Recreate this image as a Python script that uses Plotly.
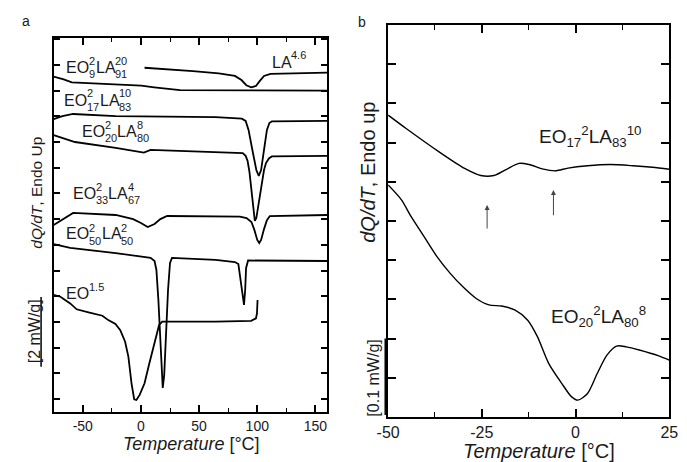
import plotly.graph_objects as go

W, H = 687, 462
FONT = "Arial, Liberation Sans, sans-serif"
TXT = "#1a1a1a"

# ---------------- Panel a data (T in °C, Y in offset units: 1 unit = one y-tick) ----------------
la46_T = [3.1, 22.5, 44.7, 66.9, 80.8, 86.4, 90.6, 94.8, 98.9, 101.7, 105.8, 111.4, 160]
la46_Y = [13.89, 13.84, 13.76, 13.67, 13.57, 13.41, 13.21, 13.13, 13.18, 13.35, 13.57, 13.65, 13.70]

eo9_T = [-75, -66.4, -59.4, -41.4, -19.2, 0.3, 11.4, 25.3, 33.6, 160]
eo9_Y = [13.54, 13.44, 13.32, 13.28, 13.25, 13.19, 13.13, 13.05, 13.02, 13.00]

eo17_T = [-75, -67.5, -58.3, -21.7, 64.2, 86.7, 90.0, 92.5, 95.8, 99.2, 101.3, 103.3, 105.8, 108.3, 110.4, 112.5, 160]
eo17_Y = [11.89, 12.01, 12.09, 12.01, 11.97, 11.91, 11.82, 11.47, 10.69, 9.91, 9.68, 9.91, 10.69, 11.47, 11.74, 11.80, 11.82]

eo20_T = [-75, -65, -56.7, -21.7, -2.5, 2.5, 8.3, 64.2, 87.5, 90.0, 91.7, 93.3, 95.8, 97.9, 99.2, 101.7, 104.2, 105.8, 107.5, 110.0, 112.5, 160]
eo20_Y = [11.27, 11.12, 11.00, 10.77, 10.65, 10.59, 10.69, 10.61, 10.57, 10.46, 10.26, 9.83, 8.86, 7.93, 8.04, 8.74, 9.44, 9.91, 10.18, 10.36, 10.44, 10.46]

eo33_T = [-75, -65, -58.3, -21.7, -6.7, 0, 5.8, 11.7, 16.7, 22.5, 64.2, 85, 90.8, 95, 97.5, 100, 101.7, 103.3, 105.8, 108.3, 110.8, 160]
eo33_Y = [7.77, 8.04, 8.24, 8.16, 8.00, 7.85, 7.69, 7.81, 8.00, 8.12, 8.12, 8.10, 8.04, 7.89, 7.58, 7.19, 7.07, 7.19, 7.61, 7.96, 8.12, 8.16]

eo50_T = [-75, -60.8, -21.7, 0, 8.3, 11.7, 13.3, 15.0, 16.7, 17.9, 18.75, 20.0, 21.7, 23.3, 25.0, 26.7,
          64.2, 80.8, 83.75, 85.8, 87.5, 88.6, 89.6, 90.4, 92.1, 160]
eo50_Y = [7.03, 6.88, 6.68, 6.53, 6.49, 6.37, 6.02, 4.85, 3.30, 1.93, 1.43, 1.93, 3.68, 5.24, 6.29, 6.49,
          6.41, 6.33, 6.25, 5.63, 4.93, 4.66, 5.24, 6.10, 6.39, 6.37]

eo15_T = [-75, -69.2, -60.8, -55.25, -44.2, -33.1, -28.1, -21.9, -17.75, -13.6, -10.8, -8.1, -5.8, -3.9, -1.1,
          3.1, 7.25, 11.4, 15.6, 18.3, 64.2, 94.75, 98.9, 99.75, 100.25]
eo15_Y = [5.05, 4.98, 4.72, 4.49, 4.36, 4.24, 4.07, 3.92, 3.68, 3.23, 2.65, 1.61, 0.99, 0.96, 1.16,
          1.61, 2.39, 3.17, 3.88, 4.01, 4.01, 4.04, 4.14, 4.33, 4.85]

xticks_a = [-50, 0, 50, 100, 150]
xtick_text_a = ["-50", "0", "50", "100", "150"]
scale_a = [2.25, 4.97]          # extent of the "[2 mW/g]" bar in panel-a units

# ---------------- Panel b data ----------------
eo17b_T = [-50, -45.2, -36.5, -29.6, -25.3, -21.8, -18.4, -15.1, -12.4, -8.9, -5.4, -2.0, 3.2, 9.25, 15.3, 20.5, 25]
eo17b_Y = [7.70, 7.36, 6.77, 6.34, 6.16, 6.16, 6.32, 6.47, 6.44, 6.33, 6.28, 6.35, 6.41, 6.44, 6.41, 6.37, 6.32]

eo20b_T = [-50, -46.45, -43.86, -40.41, -36.97, -33.5, -30.05, -26.6, -23.13, -19.7, -16.24, -12.77, -10.18,
           -7.18, -3.7, -1.11, 0.6, 3.19, 5.78, 8.37, 10.96, 13.55, 17.0, 22.2, 25]
eo20b_Y = [5.92, 5.54, 5.11, 4.60, 4.09, 3.67, 3.32, 3.03, 2.86, 2.83, 2.73, 2.47, 2.05,
           1.37, 0.86, 0.52, 0.43, 0.60, 1.11, 1.58, 1.81, 1.79, 1.71, 1.56, 1.45]

xticks_b = [-50, -25, 0, 25]
xtick_text_b = ["-50", "-25", "0", "25"]
arrow_T = [-23.6, -5.9]
arrow_tail = [4.77, 5.11]
arrow_head = [5.41, 5.79]
scale_b = [0.05, 2.0]

# ---------------- figure ----------------
fig = go.Figure()
LW_A = 1.8
for T, Y in [(la46_T, la46_Y), (eo9_T, eo9_Y), (eo17_T, eo17_Y), (eo20_T, eo20_Y),
             (eo33_T, eo33_Y), (eo50_T, eo50_Y), (eo15_T, eo15_Y)]:
    fig.add_trace(go.Scatter(x=T, y=Y, mode="lines", line=dict(color="black", width=LW_A),
                             xaxis="x", yaxis="y", showlegend=False, hoverinfo="skip"))
for T, Y in [(eo17b_T, eo17b_Y), (eo20b_T, eo20b_Y)]:
    fig.add_trace(go.Scatter(x=T, y=Y, mode="lines", line=dict(color="black", width=1.4, shape="spline", smoothing=0.8),
                             xaxis="x2", yaxis="y2", showlegend=False, hoverinfo="skip"))

def P(px, py):
    return px / W, 1 - py / H

ax_common = dict(showline=True, linecolor="black", linewidth=2, mirror="allticks", ticks="inside",
                 tickcolor="black", tickwidth=1.5, showgrid=False, zeroline=False)

fig.update_layout(
    width=W, height=H, margin=dict(l=0, r=0, t=0, b=0),
    paper_bgcolor="white", plot_bgcolor="white",
    xaxis=dict(domain=[43 / W, 325 / W], range=[-75, 160], tickmode="array", tickvals=xticks_a,
               ticktext=xtick_text_a, ticklen=7, anchor="y",
               minor=dict(tickmode="linear", tick0=0, dtick=25, ticklen=4, ticks="inside", tickcolor="black", tickwidth=1.2),
               tickfont=dict(size=14, family=FONT, color=TXT), **ax_common),
    yaxis=dict(domain=[1 - 412 / H, 1 - 38 / H], range=[0.494, 15.047], tick0=0, dtick=1, ticklen=6,
               showticklabels=False, anchor="x", **ax_common),
    xaxis2=dict(domain=[388 / W, 678 / W], range=[-50, 25], tickmode="array", tickvals=xticks_b,
                ticktext=xtick_text_b, ticklen=8, anchor="y2",
                minor=dict(tickmode="linear", tick0=0, dtick=12.5, ticklen=5, ticks="inside", tickcolor="black", tickwidth=1.2),
                tickfont=dict(size=16, family=FONT, color=TXT), **ax_common),
    yaxis2=dict(domain=[1 - 417 / H, 1 - 25 / H], range=[0, 10], tick0=0, dtick=1, ticklen=8,
                showticklabels=False, anchor="x2", **ax_common),
)

ann = []
def text_ann(px, py, text, size, xanchor="left", yanchor="middle", angle=0):
    x, y = P(px, py)
    ann.append(dict(x=x, y=y, xref="paper", yref="paper", text=text, showarrow=False,
                    xanchor=xanchor, yanchor=yanchor, textangle=angle, borderpad=0,
                    font=dict(size=size, family=FONT, color=TXT)))

CW = {"E": 0.667, "O": 0.778, "L": 0.556, "A": 0.667, ".": 0.278}
def tw(s, size):
    return sum(CW.get(c, 0.556) for c in s) * size

MAIN, SMALL = 16, 11
def stacked(px, pyc, pieces):
    x = px
    for main, sup, sub in pieces:
        text_ann(x, pyc, main, MAIN)
        x += tw(main, MAIN) + 0.5
        if sup:
            text_ann(x, pyc - 6.5, sup, SMALL)
        if sub:
            text_ann(x, pyc + 7, sub, SMALL)
        x += max(tw(sup, SMALL), tw(sub, SMALL)) + 0.5

stacked(55, 67.5, [("EO", "2", "9"), ("LA", "20", "91")])
stacked(53, 100, [("EO", "2", "17"), ("LA", "10", "83")])
stacked(71, 131.5, [("EO", "2", "20"), ("LA", "8", "80")])
stacked(62, 193.5, [("EO", "2", "33"), ("LA", "4", "67")])
stacked(55, 234, [("EO", "2", "50"), ("LA", "2", "50")])
stacked(55, 293.5, [("EO", "1.5", "")])
stacked(267, 62, [("LA", "4.6", "")])

# panel b labels
text_ann(543, 136, "EO<sub>17</sub><sup>2</sup>LA<sub>83</sub><sup>10</sup>", 19)
text_ann(555, 316, "EO<sub>20</sub><sup>2</sup>LA<sub>80</sub><sup>8</sup>", 19)

# axis titles
text_ann(185, 444, "<i>Temperature</i> [°C]", 18, xanchor="center")
text_ann(544, 451, "<i>Temperature</i> [°C]", 20, xanchor="center")
text_ann(25, 192.5, "<i>dQ/dT</i>, Endo Up", 15.5, xanchor="center", angle=-90)
text_ann(367, 172, "<i>dQ/dT</i>, Endo up", 20, xanchor="center", angle=-90)
text_ann(23, 331, "[2 mW/g]", 16, xanchor="center", angle=-90)
text_ann(372, 378, "[0.1 mW/g]", 16, xanchor="center", angle=-90)
text_ann(14, 21, "a", 14, xanchor="center")
text_ann(361, 22, "b", 14, xanchor="center")

for T, t0, t1 in zip(arrow_T, arrow_tail, arrow_head):
    ann.append(dict(x=T, y=t1, ax=T, ay=t0, xref="x2", yref="y2", axref="x2", ayref="y2", text="",
                    showarrow=True, arrowhead=2, arrowsize=1, arrowwidth=1, arrowcolor="#444"))

fig.update_layout(annotations=ann)

fig.add_shape(type="line", xref="paper", yref="y", x0=30 / W, x1=30 / W, y0=scale_a[0], y1=scale_a[1],
              line=dict(color="black", width=1.5))
fig.add_shape(type="line", xref="paper", yref="y2", x0=385 / W, x1=385 / W, y0=scale_b[0], y1=scale_b[1],
              line=dict(color="black", width=1.5))

fig.write_html("out.html")
